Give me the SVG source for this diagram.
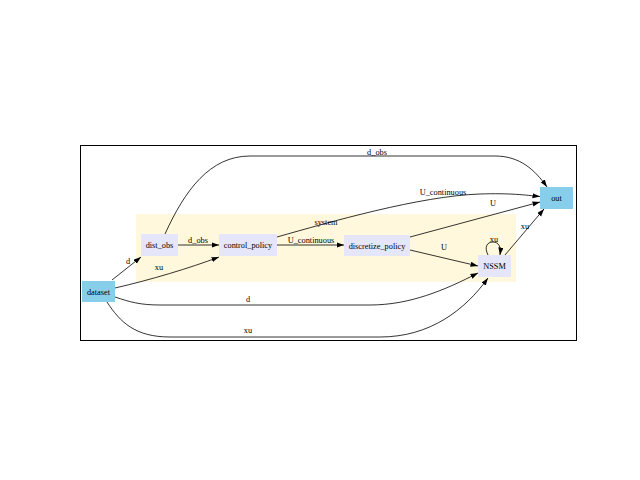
<svg xmlns="http://www.w3.org/2000/svg" width="640" height="480" viewBox="0 0 640 480">
<style>
text{font-family:"Liberation Serif","Times New Roman",serif;font-size:8.3px;fill:#000;text-anchor:middle}
.n{fill:#e6e6fa}
.io{fill:#87ceeb}
.e{fill:none;stroke:#000;stroke-width:0.8;marker-end:url(#ah)}
</style>
<defs>
<marker id="ah" markerUnits="userSpaceOnUse" markerWidth="8" markerHeight="6" refX="7.5" refY="2.6" orient="auto">
<path d="M0,0 L7.5,2.6 L0,5.2 z" fill="#000"/>
</marker>
</defs>
<rect x="0" y="0" width="640" height="480" fill="#fff"/>
<rect x="80.5" y="145.5" width="496" height="195" fill="#fff" stroke="#000" stroke-width="1"/>
<g id="cluster_system">
<rect x="136" y="214" width="380" height="68" fill="#fff8dc"/>
<text x="326" y="224.5">system</text>
</g>
<g id="connectors">
<path class="e" d="M112,280 L141,257"/>
<path class="e" d="M115,288 C150,280 190,268 219,257"/>
<path class="e" d="M178,245 L219,245"/>
<path class="e" d="M277,245 L344,245"/>
<path class="e" d="M165,234 C185,190 210,156 250,156 L495,156 C520,156 535,170 547,187"/>
<path class="e" d="M277,237 C330,222 420,196 480,194 C510,193 525,195 540,196.5"/>
<path class="e" d="M410,237 L540,202"/>
<path class="e" d="M410,250 L478,266"/>
<path class="e" d="M488,255 C484,247 487,242 493,242 C499,242 501,247 500,255"/>
<path class="e" d="M505,255 L544,209"/>
<path class="e" d="M115,297 C130,302 140,305 160,305 L370,305 C410,305 445,290 478,273"/>
<path class="e" d="M107,302 C120,322 135,337 170,337 L380,337 C430,337 465,310 488,278"/>
<text x="128" y="264">d</text>
<text x="159" y="270">xu</text>
<text x="198" y="243">d_obs</text>
<text x="311" y="243">U_continuous</text>
<text x="377" y="155">d_obs</text>
<text x="443" y="195">U_continuous</text>
<text x="493" y="206">U</text>
<text x="444" y="250">U</text>
<text x="494" y="242">xu</text>
<text x="525" y="229">xu</text>
<text x="248" y="302">d</text>
<text x="248" y="333">xu</text>
</g>
<g id="dataset"><rect class="io" x="82" y="281" width="33" height="21"/><text x="98.5" y="294.5">dataset</text></g>
<g id="dist_obs"><rect class="n" x="141" y="234" width="37" height="22"/><text x="159.5" y="248">dist_obs</text></g>
<g id="control_policy"><rect class="n" x="219" y="234" width="58" height="22"/><text x="248" y="248">control_policy</text></g>
<g id="discretize_policy"><rect class="n" x="344" y="235" width="66" height="21"/><text x="377" y="248.5">discretize_policy</text></g>
<g id="NSSM"><rect class="n" x="478" y="255" width="33" height="22"/><text x="494.5" y="269">NSSM</text></g>
<g id="out"><rect class="io" x="540" y="187" width="33" height="22"/><text x="556.5" y="201">out</text></g>
</svg>
